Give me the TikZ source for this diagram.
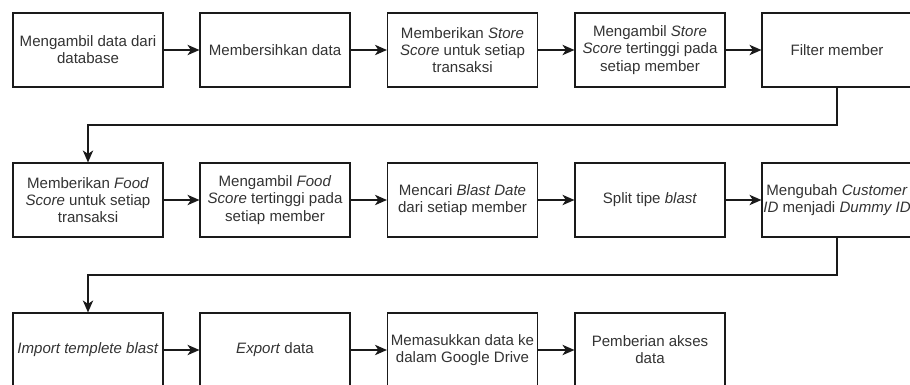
\documentclass[tikz,border=0pt]{standalone}
\usepackage{fontspec}
\setmainfont{Liberation Sans}
\usetikzlibrary{arrows.meta}
\definecolor{txt}{HTML}{333333}
\definecolor{ln}{HTML}{1A1A1A}
\begin{document}
\begin{tikzpicture}[x=0.75pt,y=-0.75pt,
  box/.style={draw=ln, line width=0.85pt, minimum width=112.5pt, minimum height=55.5pt,
    align=center, font=\fontsize{11.3}{12.9}\selectfont, text=txt, inner sep=0pt},
  arr/.style={draw=ln, line width=0.85pt, -{Stealth[length=9pt,width=7.8pt,inset=2.6pt]}}]
\useasboundingbox (0,0) rectangle (910,385);
\clip (0,0) rectangle (910,385);
\fill[white] (0,0) rectangle (910,385);
% row 1
\node[box] (r1a) at (88,50) {Mengambil data dari\\database};
\node[box] (r1b) at (275,50) {Membersihkan data};
\node[box] (r1c) at (462.5,50) {Memberikan \textit{Store}\\\textit{Score} untuk setiap\\transaksi};
\node[box] (r1d) at (650,50) {Mengambil \textit{Store}\\\textit{Score} tertinggi pada\\setiap member};
\node[box] (r1e) at (837,50) {Filter member};
% row 2
\node[box] (r2a) at (88,200) {Memberikan \textit{Food}\\\textit{Score} untuk setiap\\transaksi};
\node[box] (r2b) at (275,200) {Mengambil \textit{Food}\\\textit{Score} tertinggi pada\\setiap member};
\node[box] (r2c) at (462.5,200) {Mencari \textit{Blast Date}\\dari setiap member};
\node[box] (r2d) at (650,200) {Split tipe \textit{blast}};
\node[box] (r2e) at (837,200) {Mengubah \textit{Customer}\\\textit{ID} menjadi \textit{Dummy ID}};
% row 3
\node[box] (r3a) at (88,350) {\textit{Import templete blast}};
\node[box] (r3b) at (275,350) {\textit{Export} data};
\node[box] (r3c) at (462.5,350) {Memasukkan data ke\\dalam Google Drive};
\node[box] (r3d) at (650,350) {Pemberian akses\\data};
% arrows
\draw[arr] (r1a.east) -- (r1b.west);
\draw[arr] (r1b.east) -- (r1c.west);
\draw[arr] (r1c.east) -- (r1d.west);
\draw[arr] (r1d.east) -- (r1e.west);
\draw[arr] (r2a.east) -- (r2b.west);
\draw[arr] (r2b.east) -- (r2c.west);
\draw[arr] (r2c.east) -- (r2d.west);
\draw[arr] (r2d.east) -- (r2e.west);
\draw[arr] (r3a.east) -- (r3b.west);
\draw[arr] (r3b.east) -- (r3c.west);
\draw[arr] (r3c.east) -- (r3d.west);
\coordinate (k1) at (837,125);
\coordinate (k2) at (837,275);
\draw[arr] (r1e.south) -- (k1) -| (r2a.north);
\draw[arr] (r2e.south) -- (k2) -| (r3a.north);
\end{tikzpicture}
\end{document}
